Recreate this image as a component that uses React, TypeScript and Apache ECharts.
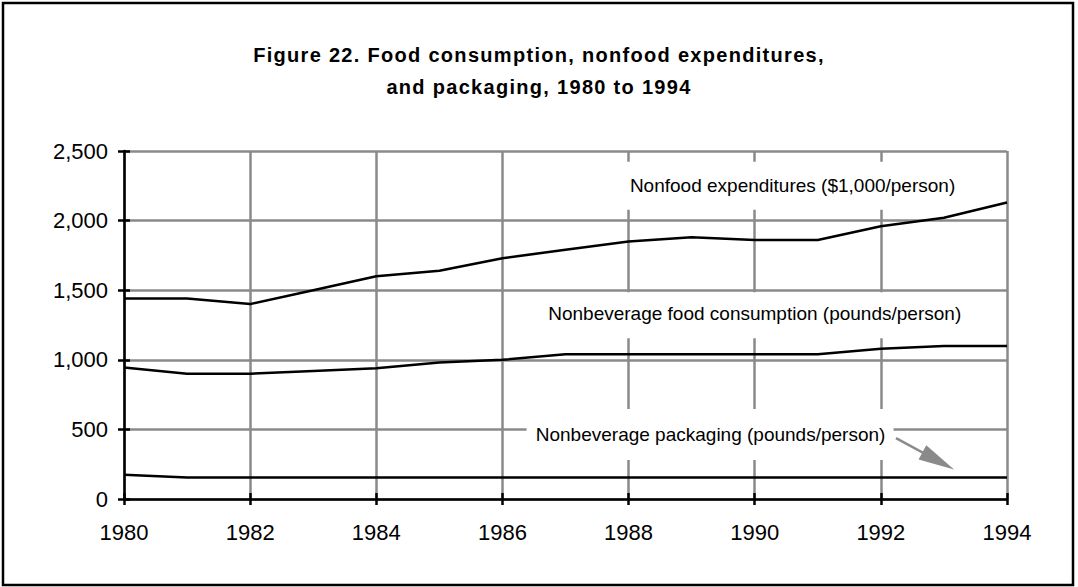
import React, { useEffect, useRef } from "react";
import * as echarts from "echarts";

// ---- Data ----
const years = [1980, 1981, 1982, 1983, 1984, 1985, 1986, 1987, 1988, 1989, 1990, 1991, 1992, 1993, 1994];
const nonfoodExpenditures = [1440, 1440, 1400, 1500, 1600, 1640, 1730, 1790, 1850, 1880, 1860, 1860, 1960, 2020, 2130];
const foodConsumption = [945, 900, 900, 920, 940, 980, 1000, 1040, 1040, 1040, 1040, 1040, 1080, 1100, 1100];
const packaging = [175, 155, 155, 155, 155, 155, 155, 155, 155, 155, 155, 155, 155, 155, 155];

const titleLines = [
  "Figure 22. Food consumption, nonfood expenditures,",
  "and packaging, 1980 to 1994",
];
const seriesLabels = [
  "Nonfood expenditures ($1,000/person)",
  "Nonbeverage food consumption (pounds/person)",
  "Nonbeverage packaging (pounds/person)",
];

const FONT = "'Liberation Sans', Arial, Helvetica, sans-serif";
const GRID_GRAY = "#8a8a8a";

export default function App() {
  const ref = useRef<HTMLDivElement>(null);

  useEffect(() => {
    document.body.style.margin = "0";
    const chart = echarts.init(ref.current!, null, { renderer: "svg" });
    const pairs = (vals: number[]) => years.map((y, i) => [y, vals[i]]);
    const lineStyle = { color: "#000", width: 2.5 };
    const axisBlack = { color: "#000", width: 2.5 };

    chart.setOption({
      animation: false,
      backgroundColor: "#fff",
      grid: { left: 124, right: 71, top: 151, bottom: 88, containLabel: false },
      xAxis: [
        {
          type: "value",
          min: 1980,
          max: 1994,
          interval: 2,
          position: "bottom",
          axisLine: { show: true, onZero: false, lineStyle: axisBlack },
          axisTick: { show: true, length: 6, lineStyle: axisBlack },
          axisLabel: {
            formatter: (v: number) => String(v),
            color: "#000",
            fontSize: 22,
            fontFamily: FONT,
            margin: 22,
          },
          splitLine: { show: true, lineStyle: { color: GRID_GRAY, width: 2.5 } },
        },
        {
          type: "value",
          min: 1980,
          max: 1994,
          interval: 2,
          position: "bottom",
          axisLine: { show: false },
          axisTick: { show: true, inside: true, length: 6, lineStyle: axisBlack },
          axisLabel: { show: false },
          splitLine: { show: false },
        },
      ],
      yAxis: [
        {
          type: "value",
          min: 0,
          max: 2500,
          interval: 500,
          position: "left",
          axisLine: { show: true, onZero: false, lineStyle: axisBlack },
          axisTick: { show: true, length: 6, lineStyle: axisBlack },
          axisLabel: { color: "#000", fontSize: 22, fontFamily: FONT, margin: 16 },
          splitLine: { show: true, lineStyle: { color: GRID_GRAY, width: 2.5 } },
        },
        {
          type: "value",
          min: 0,
          max: 2500,
          interval: 500,
          position: "left",
          axisLine: { show: false },
          axisTick: { show: true, inside: true, length: 6, lineStyle: axisBlack },
          axisLabel: { show: false },
          splitLine: { show: false },
        },
      ],
      series: [
        {
          name: seriesLabels[0],
          type: "line",
          data: pairs(nonfoodExpenditures),
          showSymbol: false,
          symbol: "none",
          lineStyle,
          z: 5,
        },
        {
          name: seriesLabels[1],
          type: "line",
          data: pairs(foodConsumption),
          showSymbol: false,
          symbol: "none",
          lineStyle,
          z: 5,
        },
        {
          name: seriesLabels[2],
          type: "line",
          data: pairs(packaging),
          showSymbol: false,
          symbol: "none",
          lineStyle,
          z: 5,
          markLine: {
            silent: true,
            symbol: ["none", "triangle"],
            symbolSize: [16, 36],
            label: { show: false },
            lineStyle: { color: GRID_GRAY, width: 2.5, type: "solid" },
            data: [[{ coord: [1992.24, 438] }, { coord: [1992.91, 273] }]],
          },
        },
      ],
    });

    const px = (x: number, y: number) =>
      chart.convertToPixel({ xAxisIndex: 0, yAxisIndex: 0 }, [x, y]) as number[];

    const annos = [
      { text: seriesLabels[0], at: px(1990.6, 2250), box: [-178, -24, 375, 48] },
      { text: seriesLabels[1], at: px(1990.0, 1335), box: [-219, -21, 434, 46] },
      { text: seriesLabels[2], at: px(1989.3, 460), box: [-184, -26, 367, 51] },
    ];

    const graphic: any[] = [
      {
        type: "rect",
        shape: { x: 3, y: 3, width: 1070, height: 582 },
        style: { fill: "none", stroke: "#000", lineWidth: 2.5 },
        z: 100,
        silent: true,
      },
      {
        type: "text",
        x: 539,
        y: 55,
        style: {
          text: titleLines[0],
          fill: "#000",
          font: `bold 20px ${FONT}`,
          align: "center",
          verticalAlign: "middle",
        },
        z: 100,
      },
      {
        type: "text",
        x: 539,
        y: 87,
        style: {
          text: titleLines[1],
          fill: "#000",
          font: `bold 20px ${FONT}`,
          align: "center",
          verticalAlign: "middle",
        },
        z: 100,
      },
    ];
    annos.forEach((a) => {
      graphic.push({
        type: "rect",
        shape: { x: a.at[0] + a.box[0], y: a.at[1] + a.box[1], width: a.box[2], height: a.box[3] },
        style: { fill: "#fff" },
        z: 1,
        silent: true,
      });
      graphic.push({
        type: "text",
        x: a.at[0],
        y: a.at[1],
        style: {
          text: a.text,
          fill: "#000",
          font: `19px ${FONT}`,
          align: "center",
          verticalAlign: "middle",
        },
        z: 2,
      });
    });
    chart.setOption({ graphic });

    return () => chart.dispose();
  }, []);

  return (
    <>
      <style>{"#root svg text[style*='bold']{letter-spacing:1.3px}"}</style>
      <div ref={ref} style={{ width: 1078, height: 587 }} />
    </>
  );
}
